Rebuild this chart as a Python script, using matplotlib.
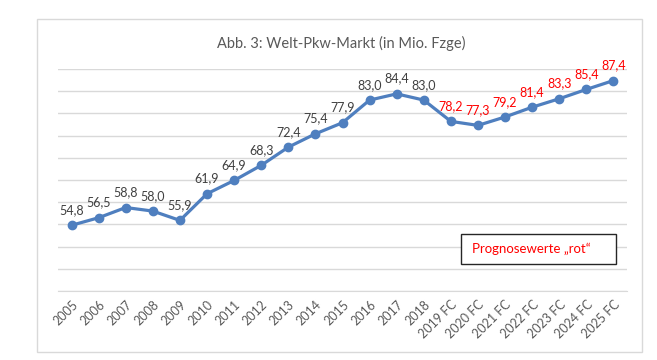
import matplotlib.pyplot as plt
from matplotlib.patches import Rectangle

# Daten
jahre = ["2005", "2006", "2007", "2008", "2009", "2010", "2011", "2012", "2013",
         "2014", "2015", "2016", "2017", "2018", "2019 FC", "2020 FC", "2021 FC",
         "2022 FC", "2023 FC", "2024 FC", "2025 FC"]
werte = [54.8, 56.5, 58.8, 58.0, 55.9, 61.9, 64.9, 68.3, 72.4, 75.4, 77.9,
         83.0, 84.4, 83.0, 78.2, 77.3, 79.2, 81.4, 83.3, 85.4, 87.4]
prognose_ab = 14  # ab "2019 FC" rot

plt.rcParams['font.family'] = ['Lato', 'DejaVu Sans']

fig = plt.figure(figsize=(6.57, 3.6), dpi=100)
ax = fig.add_axes([58 / 657, 1 - 291 / 360, (627 - 58) / 657, (291 - 69) / 360])

x = list(range(len(jahre)))
ax.plot(x, werte, color='#4F7FBF', linewidth=2.3, marker='o', markersize=6,
        zorder=3, clip_on=False)

for i, v in enumerate(werte):
    farbe = '#FF0000' if i >= prognose_ab else '#404040'
    ax.annotate(f"{v:.1f}".replace('.', ','), (i, v), xytext=(0, 11),
                textcoords='offset points', ha='center', va='center',
                fontsize=9, color=farbe)

ax.set_xlim(-0.5, len(jahre) - 0.5)
ax.set_ylim(40, 90)
ax.set_yticks(range(40, 91, 5))
ax.yaxis.grid(True, color='#D9D9D9', linewidth=1)
ax.set_axisbelow(True)
ax.tick_params(axis='y', left=False, labelleft=False)
ax.tick_params(axis='x', length=0, pad=5)
ax.set_xticks(x)
ax.set_xticklabels(jahre, rotation=45, ha='right', va='top',
                   rotation_mode='anchor', fontsize=9, color='#595959')
for s in ['top', 'left', 'right']:
    ax.spines[s].set_visible(False)
ax.spines['bottom'].set_color('#D9D9D9')

# Titel
fig.text(341 / 657, 1 - 43 / 360, "Abb. 3: Welt-Pkw-Markt (in Mio. Fzge)",
         ha='center', va='center', fontsize=10.5, color='#595959')

# Rahmen um das Diagramm
fig.patches.append(Rectangle((37 / 657, 8 / 360), (642 - 37) / 657, (352 - 19) / 360,
                             transform=fig.transFigure, fill=False,
                             edgecolor='#D9D9D9', linewidth=1))

# Hinweis-Kasten
fig.patches.append(Rectangle((461 / 657, 1 - 264 / 360), (616 - 461) / 657, 30 / 360,
                             transform=fig.transFigure, facecolor='white',
                             edgecolor='#262626', linewidth=1, zorder=5))
fig.text(472 / 657, 1 - 249 / 360, "Prognosewerte \u201erot\u201c", ha='left',
         va='center', fontsize=9.5, color='#FF0000', zorder=6)

fig.savefig("out.png", dpi=100)
